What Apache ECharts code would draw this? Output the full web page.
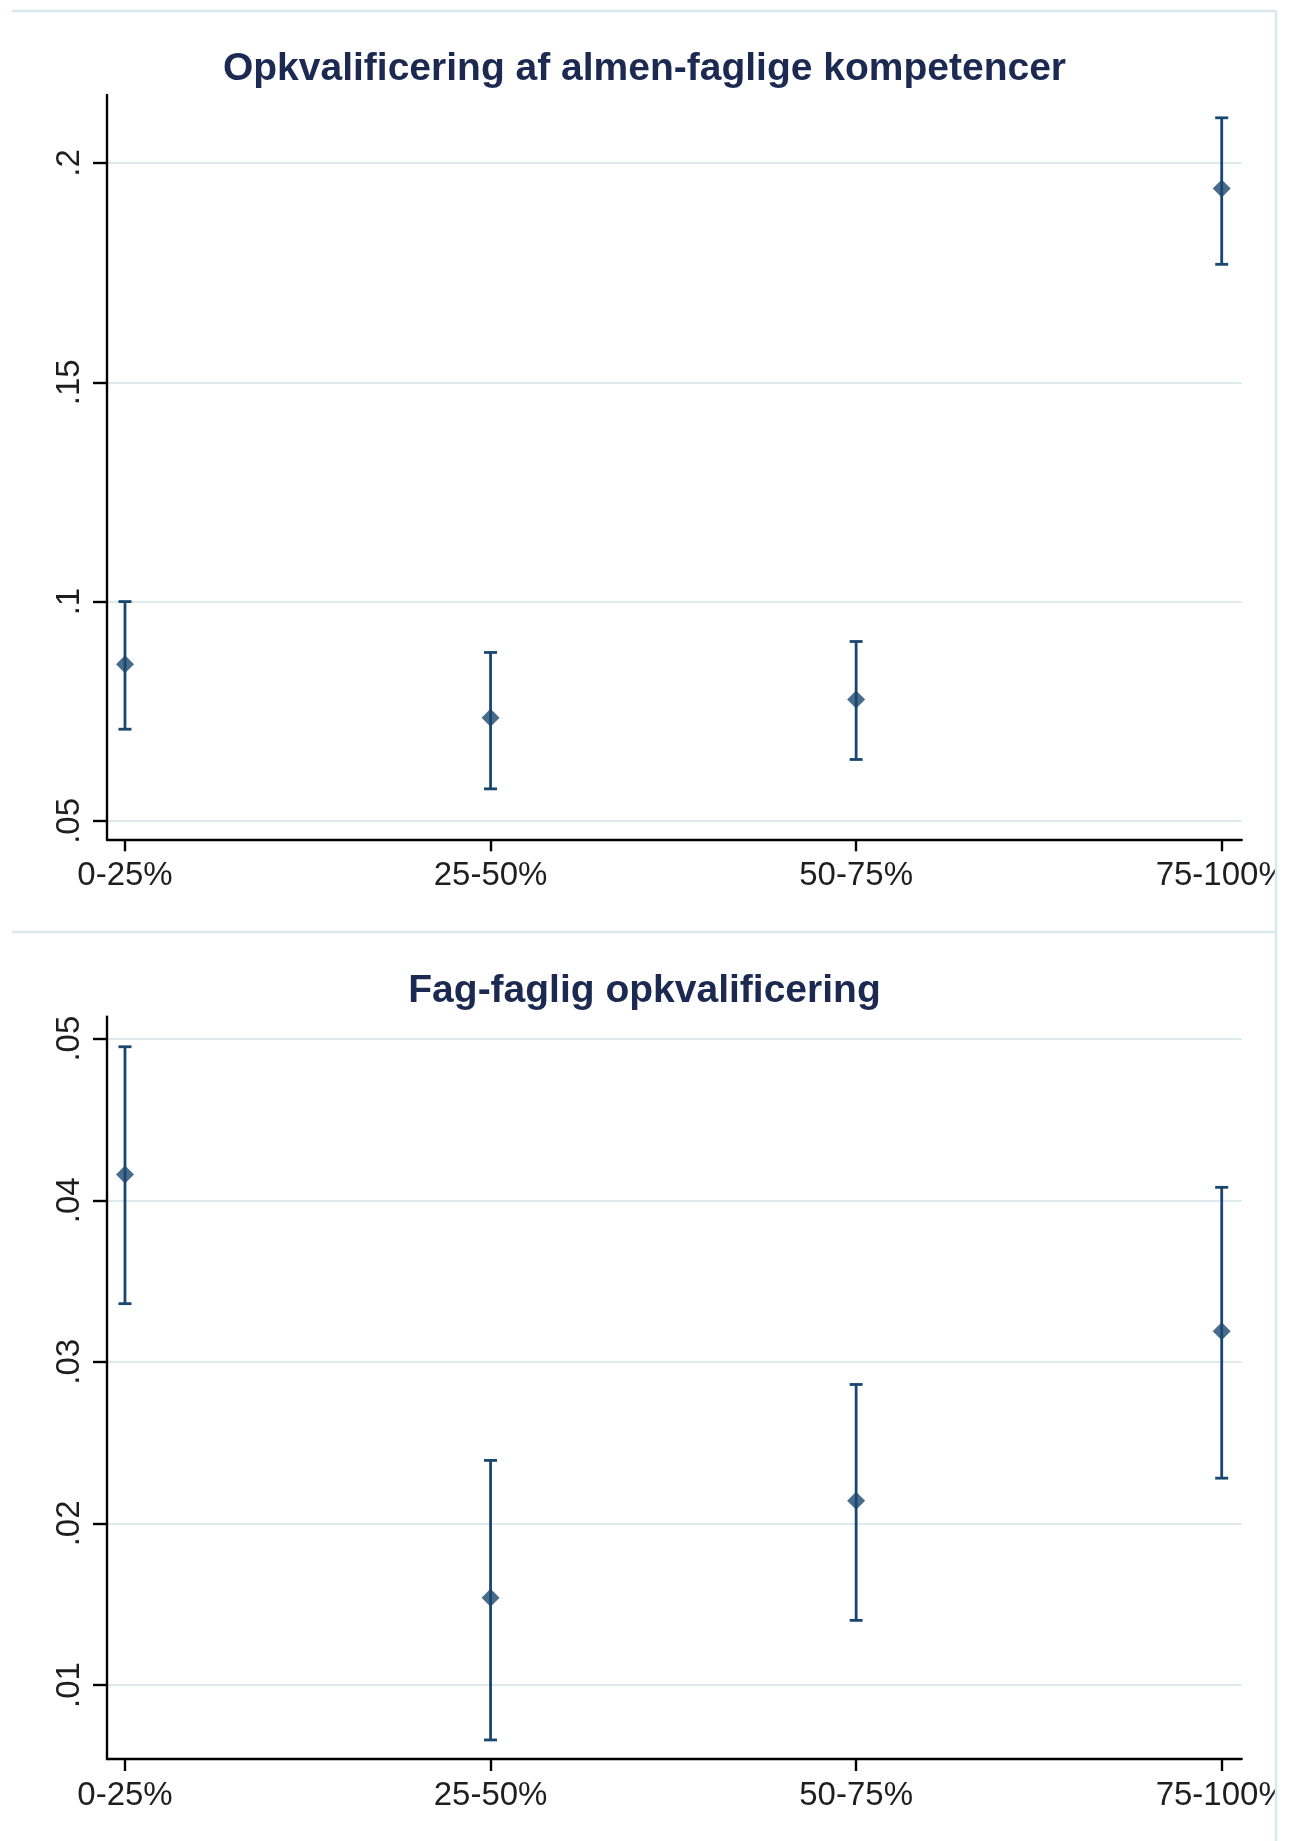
<!DOCTYPE html>
<html>
<head>
<meta charset="utf-8">
<script src="https://cdn.jsdelivr.net/npm/echarts@6/dist/echarts.min.js"></script>
<style>
  html, body { margin: 0; padding: 0; background: #ffffff; }
  #chart { width: 1289px; height: 1841px; }
</style>
</head>
<body>
<div id="chart"></div>
<script>
// ---- data ----
const categories = ['0-25%', '25-50%', '50-75%', '75-100%'];

const titleTop = 'Opkvalificering af almen-faglige kompetencer';
const estTop = [0.0857, 0.0735, 0.0777, 0.1942];
const loTop  = [0.0709, 0.0573, 0.0640, 0.1769];
const hiTop  = [0.1000, 0.0884, 0.0909, 0.2103];
const ticksTop = [0.05, 0.10, 0.15, 0.20];

const titleBottom = 'Fag-faglig opkvalificering';
const estBottom = [0.0416, 0.0154, 0.0214, 0.0319];
const loBottom  = [0.0336, 0.0066, 0.0140, 0.0228];
const hiBottom  = [0.0495, 0.0239, 0.0286, 0.0408];
const ticksBottom = [0.01, 0.02, 0.03, 0.04, 0.05];

// ---- styles ----
const NAVY = '#1a476f';
const GRID = '#dfeaee';
const FRAME = '#dbe8eb';
const FONT = 'Arial, "Liberation Sans", sans-serif';

const chart = echarts.init(document.getElementById('chart'), null, { renderer: 'canvas' });

function ciRender(params, api) {
  const x = api.value(0), lo = api.value(1), hi = api.value(2);
  const pLo = api.coord([x, lo]);
  const pHi = api.coord([x, hi]);
  const cap = 6.5;
  const st = { stroke: NAVY, lineWidth: 2.8 };
  return {
    type: 'group',
    children: [
      { type: 'line', shape: { x1: pLo[0], y1: pLo[1], x2: pHi[0], y2: pHi[1] }, style: st },
      { type: 'line', shape: { x1: pHi[0] - cap, y1: pHi[1], x2: pHi[0] + cap, y2: pHi[1] }, style: st },
      { type: 'line', shape: { x1: pLo[0] - cap, y1: pLo[1], x2: pLo[0] + cap, y2: pLo[1] }, style: st }
    ]
  };
}

function yFmt(v) {
  return String(+v.toFixed(4)).replace(/^0\./, '.');
}

function xAxisCfg(idx) {
  return {
    type: 'value',
    gridIndex: idx,
    min: -0.0492,
    max: 3.0547,
    axisLine: { show: true, onZero: false, lineStyle: { color: '#000', width: 2.4 } },
    axisTick: { show: true, length: 12, lineStyle: { color: '#000', width: 2.4 }, customValues: [0, 1, 2, 3] },
    axisLabel: {
      show: true, margin: 20, fontSize: 33, fontFamily: FONT, color: '#1e1e1e',
      customValues: [0, 1, 2, 3],
      formatter: v => categories[Math.round(v)] || ''
    },
    splitLine: { show: false }
  };
}

function yAxisCfg(idx, min, max, ticks) {
  return {
    type: 'value',
    gridIndex: idx,
    min: min,
    max: max,
    axisLine: { show: true, onZero: false, lineStyle: { color: '#000', width: 2.4 } },
    axisTick: { show: true, length: 14, lineStyle: { color: '#000', width: 2.4 }, customValues: ticks },
    axisLabel: {
      show: true, margin: 21, fontSize: 33, fontFamily: FONT, color: '#1e1e1e',
      rotate: 90, customValues: ticks, formatter: yFmt
    },
    splitLine: { show: true, lineStyle: { color: GRID, width: 2 } }
  };
}

const option = {
  backgroundColor: '#ffffff',
  animation: false,
  title: [
    {
      text: titleTop, left: 'center', top: 45,
      textStyle: { fontSize: 39, fontWeight: 'bold', fontFamily: FONT, color: '#1c2a52' }
    },
    {
      text: titleBottom, left: 'center', top: 967,
      textStyle: { fontSize: 39, fontWeight: 'bold', fontFamily: FONT, color: '#1c2a52' }
    }
  ],
  grid: [
    { left: 107, right: 47.3, top: 95, height: 744.3, containLabel: false, outerBoundsMode: 'none' },
    { left: 107, right: 47.3, top: 1016.7, height: 742.3, containLabel: false, outerBoundsMode: 'none' }
  ],
  xAxis: [xAxisCfg(0), xAxisCfg(1)],
  yAxis: [
    yAxisCfg(0, 0.0458, 0.2155, ticksTop),
    yAxisCfg(1, 0.00542, 0.05136, ticksBottom)
  ],
  series: [
    {
      type: 'custom', xAxisIndex: 0, yAxisIndex: 0, renderItem: ciRender, clip: false,
      data: categories.map((c, i) => [i, loTop[i], hiTop[i]]), z: 3
    },
    {
      type: 'scatter', xAxisIndex: 0, yAxisIndex: 0, symbol: 'diamond', symbolSize: 18,
      itemStyle: { color: NAVY }, data: categories.map((c, i) => [i, estTop[i]]), z: 4
    },
    {
      type: 'custom', xAxisIndex: 1, yAxisIndex: 1, renderItem: ciRender, clip: false,
      data: categories.map((c, i) => [i, loBottom[i], hiBottom[i]]), z: 3
    },
    {
      type: 'scatter', xAxisIndex: 1, yAxisIndex: 1, symbol: 'diamond', symbolSize: 18,
      itemStyle: { color: NAVY }, data: categories.map((c, i) => [i, estBottom[i]]), z: 4
    }
  ],
  graphic: [
    { type: 'rect', z: 100, shape: { x: 1277, y: 0, width: 12, height: 1841 }, style: { fill: '#ffffff' } },
    { type: 'line', z: 101, shape: { x1: 12, y1: 11, x2: 1276, y2: 11 }, style: { stroke: FRAME, lineWidth: 2.5 } },
    { type: 'line', z: 101, shape: { x1: 12, y1: 932, x2: 1276, y2: 932 }, style: { stroke: FRAME, lineWidth: 2.5 } },
    { type: 'line', z: 101, shape: { x1: 1276, y1: 11, x2: 1276, y2: 1841 }, style: { stroke: FRAME, lineWidth: 2.5 } }
  ]
};

chart.setOption(option);
</script>
</body>
</html>
